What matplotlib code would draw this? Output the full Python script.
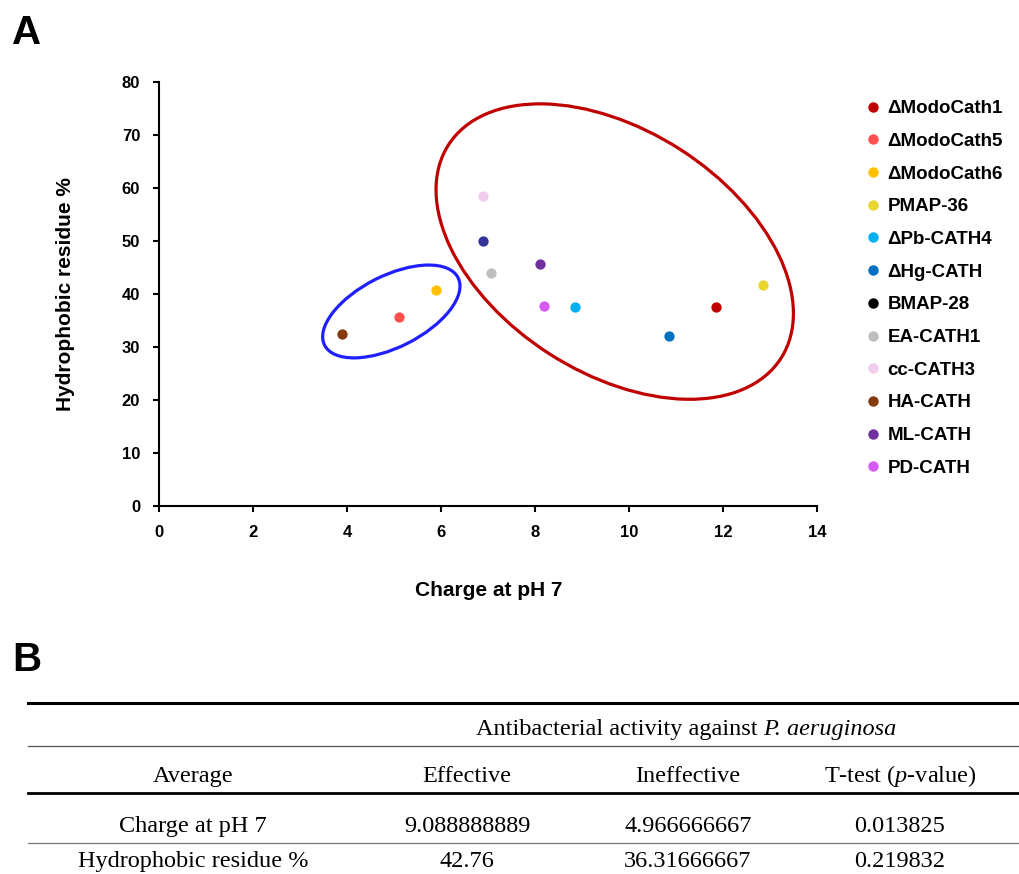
import matplotlib
matplotlib.use('Agg')
import matplotlib.pyplot as plt
from matplotlib.patches import Ellipse
from matplotlib.lines import Line2D
from matplotlib.transforms import Affine2D

plt.rcParams['mathtext.fontset'] = 'custom'
plt.rcParams['mathtext.rm'] = 'Liberation Serif'
plt.rcParams['mathtext.it'] = 'Liberation Serif:italic'

# peptide data
peptides = ["ΔModoCath1", "ΔModoCath5", "ΔModoCath6", "PMAP-36", "ΔPb-CATH4", "ΔHg-CATH",
            "BMAP-28", "EA-CATH1", "cc-CATH3", "HA-CATH", "ML-CATH", "PD-CATH"]
charge = [11.85, 5.1, 5.88, 12.85, 8.85, 10.85, 6.88, 7.05, 6.88, 3.9, 8.1, 8.18]
hydrophobic = [37.5, 35.7, 40.7, 41.7, 37.5, 32.1, 50.0, 44.0, 58.5, 32.4, 45.7, 37.8]
colors = ["#C00000", "#FF5050", "#FFC000", "#EAD630", "#00B0F0", "#0070C0",
          "#333399", "#BFBFBF", "#F2CCEC", "#843C0C", "#7030A0", "#D65AF5"]
legend_colors = colors[:6] + ["#000000"] + colors[7:]

# table B
table_group = "Antibacterial activity against"
table_species = "P. aeruginosa"
table_header = ["Average", "Effective", "Ineffective", "T-test ($\\it{p}$-value)"]
table_rows = [["Charge at pH 7", "9.088888889", "4.966666667", "0.013825"],
              ["Hydrophobic residue %", "42.76", "36.31666667", "0.219832"]]

sans = ['Liberation Sans', 'DejaVu Sans']
serif = ['Liberation Serif', 'DejaVu Serif']

fig = plt.figure(figsize=(10.19, 8.74), dpi=100)
ax = fig.add_axes([0.156, 0.4211, 0.6462, 0.4851])

for x, y, c in zip(charge, hydrophobic, colors):
    ax.scatter(x, y, s=55, color=c, zorder=3, linewidths=0)

ax.set_xlim(0, 14)
ax.set_ylim(0, 80)
ax.set_xticks(range(0, 15, 2))
ax.set_yticks(range(0, 81, 10))
for side in ["top", "right"]:
    ax.spines[side].set_visible(False)
for side in ["left", "bottom"]:
    ax.spines[side].set_linewidth(1.5)
ax.tick_params(direction='out', length=4.5, width=1.5, pad=9)
for lab in ax.get_yticklabels() + ax.get_xticklabels():
    lab.set_fontfamily(sans)
    lab.set_fontweight('bold')
    lab.set_fontsize(12)
ax.set_xlabel("Charge at pH 7", family=sans, fontweight='bold', fontsize=15, labelpad=30)
ax.set_ylabel("Hydrophobic residue %", family=sans, fontweight='bold', fontsize=15, labelpad=34)

# group ellipses, drawn in an isotropic frame so the tilt looks right
ratio = (14 / 80) * (0.4851 * 874) / (0.6462 * 1019)
for (cx, cy, w, h, ang, col) in [(4.94, 36.7, 3.18, 1.52, 26.8, "#1F1FFF"),
                                 (9.69, 48.0, 8.40, 5.16, -32.7, "#C00000")]:
    e = Ellipse((0, 0), w, h, angle=ang, fill=False, edgecolor=col, linewidth=2.3,
                transform=Affine2D().scale(1, 1 / ratio).translate(cx, cy) + ax.transData,
                clip_on=False)
    ax.add_patch(e)

handles = [Line2D([], [], marker='o', linestyle='', markersize=7.5, color=c, markeredgewidth=0)
           for c in legend_colors]
fig.legend(handles, peptides, loc='upper left', bbox_to_anchor=(0.838, 0.894), frameon=False,
           prop={'family': sans, 'weight': 'bold', 'size': 13.5}, handletextpad=0.2,
           labelspacing=0.83, handlelength=1.2, borderaxespad=0)

fig.text(0.012, 0.962, "A", family=sans, fontweight='bold', fontsize=29, va='center')
fig.text(0.012, 0.245, "B", family=sans, fontweight='bold', fontsize=29, va='center')

# table B
tab = fig.add_axes([0, 0, 1, 1], facecolor='none')
tab.set_xlim(0, 1019)
tab.set_ylim(874, 0)
tab.axis('off')
col_x = [193, 467, 688, 900]
fs = 17.5
tab.text(758, 735, table_group, family=serif, fontsize=fs, ha='right', va='baseline')
tab.text(763, 735, table_species, family=serif, fontsize=fs, style='italic',
         ha='left', va='baseline')
for x, t in zip(col_x, table_header):
    tab.text(x, 782, t, family=serif, fontsize=fs, ha='center', va='baseline')
for row, y in zip(table_rows, [832, 867]):
    for x, t in zip(col_x, row):
        tab.text(x, y, t, family=serif, fontsize=fs, ha='center', va='baseline')
tab.plot([28, 1019], [703, 703], color='black', linewidth=2.2)
tab.plot([28, 1019], [746, 746], color='#555555', linewidth=0.9)
tab.plot([28, 1019], [793, 793], color='black', linewidth=2.0)
tab.plot([28, 1019], [843, 843], color='#777777', linewidth=0.9)

fig.savefig("out.png", dpi=100)
